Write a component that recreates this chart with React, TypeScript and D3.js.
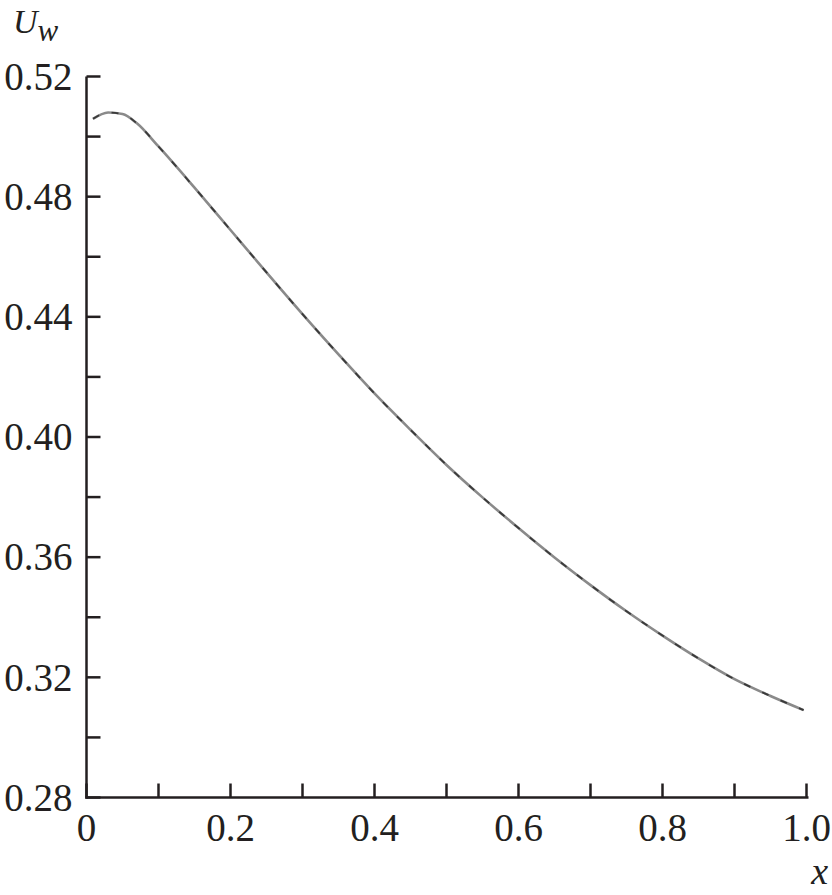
import React from "react";
import * as d3 from "d3";

const xValues = [0.009, 0.03, 0.05, 0.07, 0.1, 0.15, 0.2, 0.25, 0.3, 0.35, 0.4, 0.45, 0.5, 0.55, 0.6, 0.65, 0.7, 0.75, 0.8, 0.85, 0.9, 0.95, 0.996];
const uwValues = [0.5059, 0.508, 0.5075, 0.5044, 0.4967, 0.483, 0.4689, 0.4548, 0.4409, 0.4275, 0.4145, 0.4024, 0.3907, 0.3799, 0.3697, 0.3599, 0.3507, 0.342, 0.3339, 0.3263, 0.3194, 0.3138, 0.3091];

const xMajorTicks = [0, 0.2, 0.4, 0.6, 0.8, 1.0];
const xMajorLabels = ["0", "0.2", "0.4", "0.6", "0.8", "1.0"];
const xMinorTicks = [0.1, 0.3, 0.5, 0.7, 0.9];
const yMajorTicks = [0.28, 0.32, 0.36, 0.4, 0.44, 0.48, 0.52];
const yMajorLabels = ["0.28", "0.32", "0.36", "0.40", "0.44", "0.48", "0.52"];
const yMinorTicks = [0.3, 0.34, 0.38, 0.42, 0.46, 0.5];

const W = 832;
const H = 895;
const x0 = 86.5;
const x1 = 806.5;
const yTop = 76.5;
const yBot = 797.5;

export default function App() {
  const x = d3.scaleLinear().domain([0, 1]).range([x0, x1]);
  const y = d3.scaleLinear().domain([0.28, 0.52]).range([yBot, yTop]);
  const pts: [number, number][] = xValues.map((v, i) => [v, uwValues[i]]);
  const line = d3
    .line<[number, number]>()
    .x((d) => x(d[0]))
    .y((d) => y(d[1]))
    .curve(d3.curveMonotoneX);
  const path = line(pts) || "";
  const axisColor = "#231f20";
  const fontStyle = {
    fontFamily:
      '"Liberation Serif", "Times New Roman", Times, Tinos, "DejaVu Serif", "Noto Serif", FreeSerif, serif',
  };
  const tickLen = 14;
  return (
    <svg
      width={W}
      height={H}
      style={{ position: "absolute", left: 0, top: 0, background: "#fff" }}
    >
      <line x1={x0} y1={yTop} x2={x0} y2={yBot + 1.2} stroke={axisColor} strokeWidth={2.5} />
      <line x1={x0 - 1.2} y1={yBot} x2={x1 + 2} y2={yBot} stroke={axisColor} strokeWidth={2.5} />
      {yMajorTicks.concat(yMinorTicks).map((t) => (
        <line key={"yt" + t} x1={x0} x2={x0 + tickLen} y1={y(t)} y2={y(t)} stroke={axisColor} strokeWidth={2.5} />
      ))}
      {xMajorTicks.concat(xMinorTicks).map((t) => (
        <line key={"xt" + t} x1={x(t)} x2={x(t)} y1={yBot} y2={yBot - tickLen} stroke={axisColor} strokeWidth={2.5} />
      ))}
      {yMajorTicks.map((t, i) => (
        <text key={"yl" + t} x={x0 - 14} y={y(t)} dy="0.34em" textAnchor="end" fontSize={39} fill={axisColor} style={fontStyle}>
          {yMajorLabels[i]}
        </text>
      ))}
      {xMajorTicks.map((t, i) => (
        <text key={"xl" + t} x={x(t)} y={841} textAnchor="middle" fontSize={39} fill={axisColor} style={fontStyle}>
          {xMajorLabels[i]}
        </text>
      ))}
      <text x={828} y={884} textAnchor="end" fontSize={38} fontStyle="italic" fill={axisColor} style={fontStyle}>
        x
      </text>
      <text x={13} y={33} fontSize={34} fontStyle="italic" fill={axisColor} style={fontStyle}>
        U
        <tspan dy={8} fontSize={31}>w</tspan>
      </text>
      <path d={path} fill="none" stroke="#8a8a8a" strokeWidth={2.6} />
      <path d={path} fill="none" stroke="#3a3a3a" strokeWidth={1.8} strokeDasharray="7 13" />
    </svg>
  );
}
